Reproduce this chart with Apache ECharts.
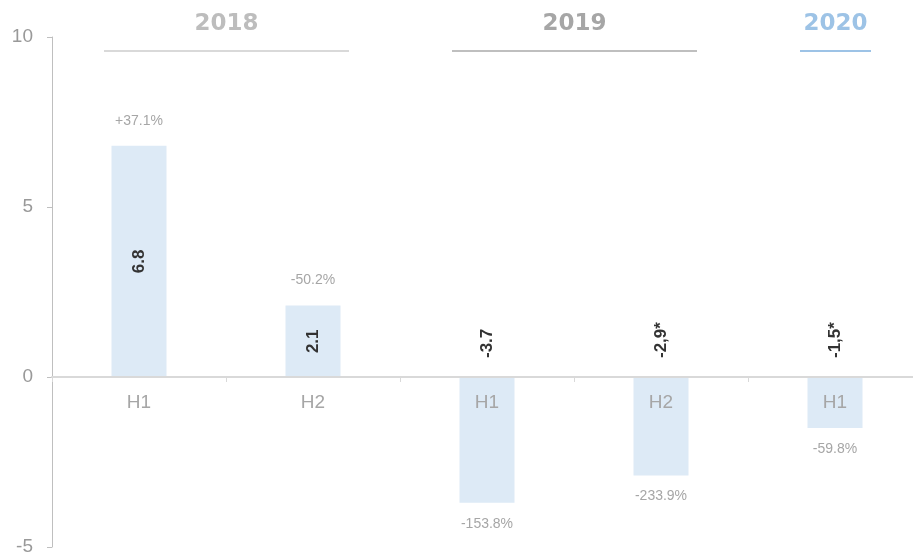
<!DOCTYPE html>
<html>
<head>
<meta charset="utf-8">
<script src="https://cdn.jsdelivr.net/npm/echarts@6/dist/echarts.min.js"></script>
<style>
    html, body { margin: 0; padding: 0; background: #fff; }
    #main { width: 913px; height: 555px; }
</style>
</head>
<body>
<div id="main"></div>
<script>
    // halves, values and labels
    var halves = ['H1', 'H2', 'H1', 'H2', 'H1']
    var values = [6.8, 2.1, -3.7, -2.9, -1.5]
    var valueLabels = ['6.8', '2.1', '-3.7', '-2,9*', '-1,5*']
    var changeLabels = ['+37.1%', '-50.2%', '-153.8%', '-233.9%', '-59.8%']
    var yTicks = [-5, 0, 5, 10]

    // year headers span these category indexes
    var years = ['2018', '2019', '2020']
    var yearFrom = [0, 2, 4]
    var yearTo = [1, 3, 4]
    var yearColors = ['#bdbdbd', '#a6a6a6', '#9dc3e6']
    var yearLineColors = ['#d9d9d9', '#bfbfbf', '#9dc3e6']

    var myChart = echarts.init(document.getElementById('main'))

    var barData = values.map(function (v, i) {
        return {
            value: v,
            label: v >= 0
                ? { position: 'inside', align: 'center', verticalAlign: 'middle' }
                : { position: 'top', distance: 19, align: 'left', verticalAlign: 'middle' }
        }
    })
    var changeData = values.map(function (v, i) {
        return {
            value: v,
            label: v >= 0
                ? { position: 'top', distance: 18 }
                : { position: 'bottom', distance: 14 }
        }
    })

    var option = {
        animation: false,
        grid: { left: 52, right: -9, top: 37, bottom: 8, outerBoundsMode: 'none', containLabel: false },
        xAxis: {
            type: 'category',
            position: 'bottom',
            data: halves,
            axisLine: { onZero: false, lineStyle: { color: '#d9d9d9', width: 2 } },
            axisTick: { show: true, length: 5, lineStyle: { color: '#d9d9d9' } },
            axisLabel: { color: '#a6a6a6', fontSize: 19, fontFamily: 'Liberation Sans', margin: 16 }
        },
        yAxis: {
            type: 'value',
            min: yTicks[0],
            max: yTicks[yTicks.length - 1],
            interval: 5,
            splitLine: { show: false },
            axisLine: { show: true, lineStyle: { color: '#bfbfbf' } },
            axisTick: { show: true, length: 5, lineStyle: { color: '#bfbfbf' } },
            axisLabel: { color: '#999', fontSize: 19, fontFamily: 'Liberation Sans', margin: 19 }
        },
        series: [{
            type: 'bar',
            data: barData,
            barWidth: 55,
            itemStyle: { color: '#ddeaf6' },
            label: {
                show: true,
                rotate: 90,
                color: '#333',
                fontWeight: 'bold',
                fontSize: 17,
                fontFamily: 'Liberation Sans',
                formatter: function (p) { return valueLabels[p.dataIndex] }
            },
            z: 2
        }, {
            type: 'bar',
            data: changeData,
            barWidth: 55,
            barGap: '-100%',
            itemStyle: { color: 'rgba(0,0,0,0)' },
            label: {
                show: true,
                color: '#a6a6a6',
                fontSize: 14,
                fontFamily: 'Liberation Sans',
                formatter: function (p) { return changeLabels[p.dataIndex] }
            },
            z: 1
        }]
    }
    myChart.setOption(option)

    // move the category axis (line, ticks and labels) up to the zero line
    var zeroY = myChart.convertToPixel({ yAxisIndex: 0 }, 0)
    var bottomY = myChart.convertToPixel({ yAxisIndex: 0 }, yTicks[0])
    myChart.setOption({ xAxis: { offset: -(bottomY - zeroY), z: 5 } })

    // year headers placed from the category axis positions
    var graphics = []
    years.forEach(function (y, i) {
        var x1 = myChart.convertToPixel({ xAxisIndex: 0 }, yearFrom[i]) - 35
        var x2 = myChart.convertToPixel({ xAxisIndex: 0 }, yearTo[i]) + 36
        graphics.push({
            type: 'text',
            x: (x1 + x2) / 2,
            y: 24,
            style: {
                text: y,
                fill: yearColors[i],
                font: 'bold 23px "DejaVu Sans"',
                textAlign: 'center',
                textVerticalAlign: 'middle'
            }
        })
        graphics.push({
            type: 'line',
            shape: { x1: x1, y1: 51, x2: x2, y2: 51 },
            style: { stroke: yearLineColors[i], lineWidth: 2 }
        })
    })
    myChart.setOption({ graphic: graphics })
</script>
</body>
</html>
